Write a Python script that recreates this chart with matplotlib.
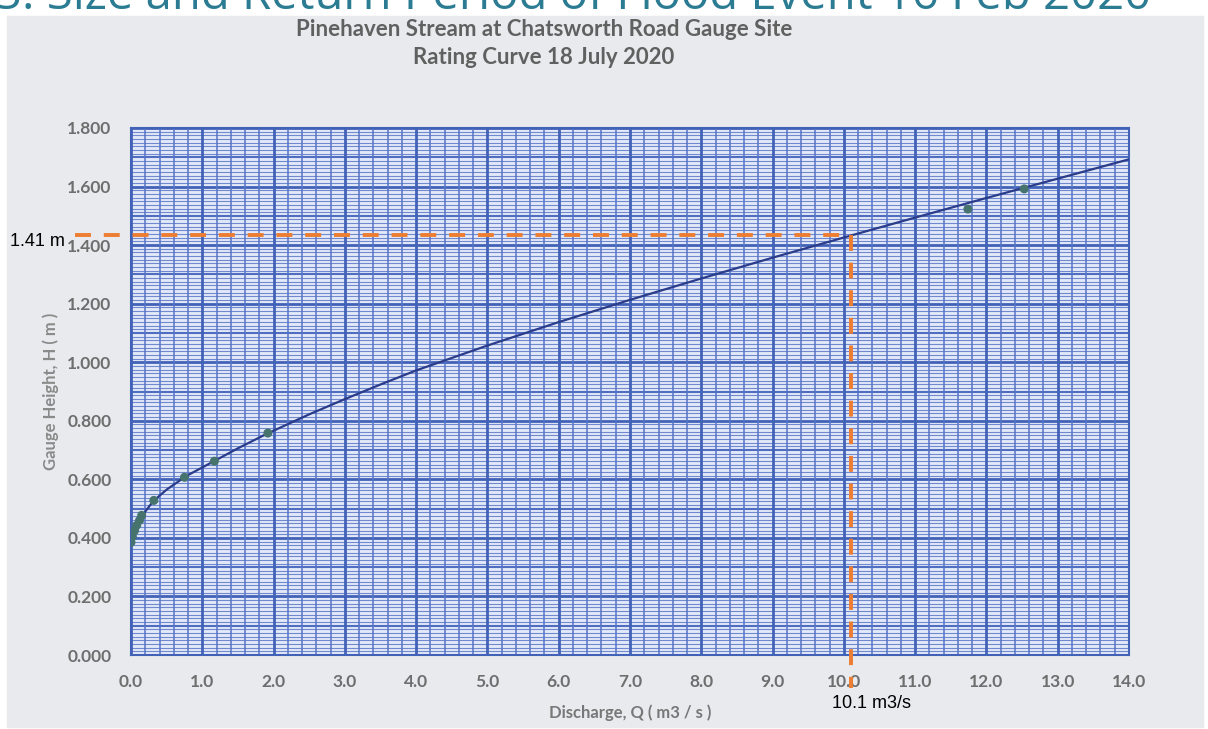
import matplotlib.pyplot as plt
import numpy as np
from matplotlib.patches import Rectangle

# gauged points (discharge m3/s, gauge height m)
q_obs = [0.0, 0.02, 0.05, 0.08, 0.12, 0.15, 0.32, 0.75, 1.17, 1.92, 11.74, 12.53]
h_obs = [0.385, 0.405, 0.425, 0.443, 0.46, 0.477, 0.528, 0.607, 0.662, 0.758, 1.523, 1.592]

# rating curve as drawn on the sheet
q_curve = [0.0, 0.02, 0.06, 0.12, 0.2, 0.31, 0.5, 0.78, 1.18, 1.5, 1.9, 2.5, 3.0, 3.5,
           4.0, 5.0, 6.0, 7.0, 8.0, 9.0, 10.0, 11.0, 12.0, 13.0, 14.0]
h_curve = [0.38, 0.40, 0.428, 0.458, 0.49, 0.525, 0.565, 0.612, 0.664, 0.706, 0.755, 0.822,
           0.874, 0.924, 0.972, 1.057, 1.137, 1.213, 1.286, 1.357, 1.426, 1.494, 1.561,
           1.627, 1.693]

# flood event read-off
q_event = 10.1
h_event = 1.433
h_event_label = "1.41 m"
q_event_label = "10.1 m3/s"

x_ticks = np.arange(0, 14.01, 1.0)
y_ticks = np.arange(0, 1.801, 0.2)

W, H = 1208, 729
fig = plt.figure(figsize=(W / 100, H / 100), dpi=100, facecolor='white')

# scanned sheet
fig.patches.append(Rectangle((7 / W, 1 - 727 / H), (1203 - 7) / W, (727 - 16) / H,
                             transform=fig.transFigure, color='#e9eaee', zorder=-10))

# slide heading, cut off at the top
fig.text(-0.004, 1 - 9 / H, "3. Size and Return Period of Flood Event 16 Feb 2020",
         fontsize=34, color='#2b7c93', family='Open Sans', va='baseline', ha='left')

fig.text(544 / W, 1 - 29 / H, "Pinehaven Stream at Chatsworth Road Gauge Site",
         fontsize=16, fontweight='bold', color='#606060', family='Lato',
         ha='center', va='center')
fig.text(544 / W, 1 - 57 / H, "Rating Curve 18 July 2020",
         fontsize=16, fontweight='bold', color='#606060', family='Lato',
         ha='center', va='center')

ax = fig.add_axes([131 / W, 1 - 655 / H, (1129 - 131) / W, (655 - 128) / H])
ax.set_zorder(1)
ax.set_facecolor('#e2e9f8')
ax.set_xlim(0, 14)
ax.set_ylim(0, 1.8)

# graph paper
for y in np.arange(0, 1.8001, 0.0125):
    k = int(round(y / 0.0125))
    if k % 16 == 0:
        ax.axhline(y, color='#4262b8', lw=2.0, zorder=1)
    elif k % 8 == 0:
        ax.axhline(y, color='#4f6ec2', lw=1.5, zorder=1)
    else:
        ax.axhline(y, color='#7089d0', lw=0.8, zorder=1)
for x in np.arange(0, 14.001, 0.2):
    major = abs(x - round(x)) < 1e-6
    ax.axvline(x, color='#4262b8' if major else '#5674c6', lw=2.0 if major else 1.1, zorder=1)

ax.plot(q_curve, h_curve, color='#2a3c8a', lw=1.6, zorder=3)
ax.scatter(q_obs, h_obs, s=42, color='#46736e', zorder=4, edgecolors='none')

for s in ax.spines.values():
    s.set_color('#4262b8')
    s.set_linewidth(1.5)

ax.set_xticks(x_ticks)
ax.set_xticklabels([f"{v:.1f}" for v in x_ticks])
ax.set_yticks(y_ticks)
ax.set_yticklabels([f"{v:.3f}" for v in y_ticks])
ax.tick_params(length=0, labelsize=12.5, labelcolor='#6e6e6e')
for lab in ax.get_xticklabels() + ax.get_yticklabels():
    lab.set_family('Lato')
    lab.set_fontweight('bold')
ax.tick_params(axis='x', pad=14)
ax.tick_params(axis='y', pad=14)

ax.set_xlabel("Discharge, Q ( m3 / s )", fontsize=12, color='#777777',
              family='Lato', fontweight='bold')
ax.set_ylabel("Gauge Height, H ( m )", fontsize=12, color='#8a8a8a',
              family='Lato', fontweight='bold')
ax.xaxis.set_label_coords(0.5, -0.093)
ax.yaxis.set_label_coords(-0.072, 0.5)

# orange read-off lines
orange = '#ED7D31'
ax.plot([-0.78, q_event], [h_event, h_event], color=orange, lw=2.8, ls=(0, (4.1, 3.3)),
        clip_on=False, zorder=5)
ax.plot([q_event, q_event], [h_event, -0.112], color=orange, lw=2.8, ls=(0, (4.1, 3.0)),
        clip_on=False, zorder=5)
fig.text(10 / W, 1 - 242 / H, h_event_label, fontsize=13, color='black',
         family='Liberation Sans', va='center', ha='left', zorder=6)
fig.text(832 / W, 1 - 703 / H, q_event_label, fontsize=13, color='black',
         family='Liberation Sans', va='center', ha='left', zorder=6)

fig.savefig('out.png', dpi=100, facecolor='white')
